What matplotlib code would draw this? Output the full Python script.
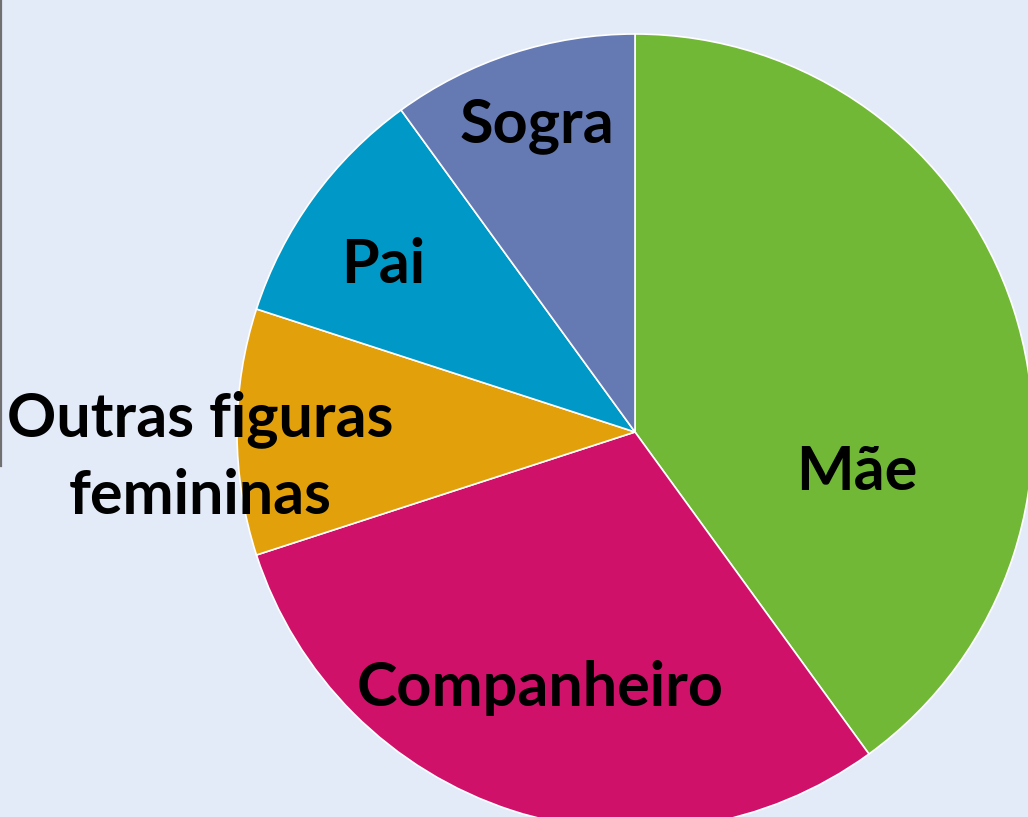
import matplotlib
matplotlib.use("Agg")
import matplotlib.pyplot as plt
from matplotlib.lines import Line2D

categories = ["Mãe", "Companheiro", "Outras figuras\nfemininas", "Pai", "Sogra"]
values = [40, 30, 10, 10, 10]
colors = ["#70B835", "#D0116A", "#E2A00A", "#0098C6", "#6579B3"]
# label positions in pixel coordinates (x, y from top)
label_pos = [(857, 472), (540, 688), (200, 457), (383, 265), (537, 126)]

W, H = 1028, 817
bg = "#E3EAF8"
fig = plt.figure(figsize=(W / 100, H / 100), dpi=100, facecolor=bg)
ax = fig.add_axes([0, 0, 1, 1])
ax.set_facecolor(bg)

cx, cy, r = 635, H - 432, 398
ax.pie(values, colors=colors, startangle=90, counterclock=False,
       center=(cx, cy), radius=r, frame=True,
       wedgeprops=dict(edgecolor="white", linewidth=1.2))
ax.set_xlim(0, W)
ax.set_ylim(0, H)
ax.set_aspect("equal")
ax.axis("off")

for lab, (x, y) in zip(categories, label_pos):
    ax.text(x, H - y, lab, ha="center", va="center", fontsize=44,
            fontweight="bold", family=["Lato", "DejaVu Sans"], color="black",
            linespacing=1.42)

fig.add_artist(Line2D([1.2 / W, 1.2 / W], [1, 1 - 466 / H],
                      transform=fig.transFigure, color="#707070", linewidth=1.6))

fig.savefig("out.png", dpi=100, facecolor=bg)
